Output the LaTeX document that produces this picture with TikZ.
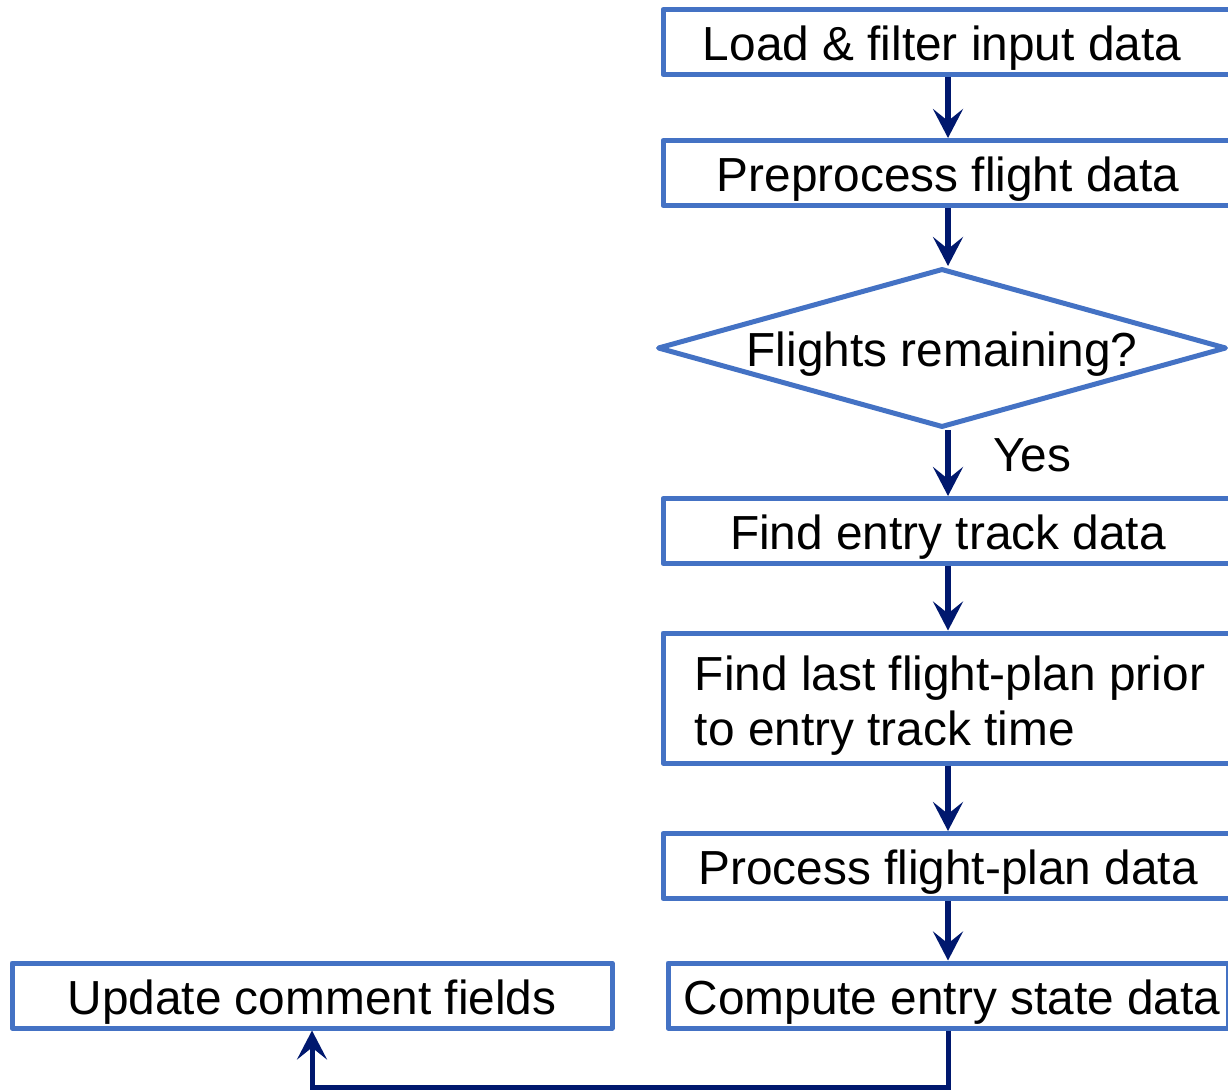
\documentclass[tikz,border=0pt]{standalone}
\usepackage{fontspec}
\setmainfont{Liberation Sans}
\usetikzlibrary{arrows.meta,shapes.geometric}

\definecolor{boxblue}{RGB}{68,114,196}
\definecolor{flownavy}{RGB}{0,24,110}

\tikzset{
  every node/.style={font=\fontsize{47.8}{55}\selectfont, text=black},
  procbox/.style={draw=boxblue, line width=5pt, line join=round, fill=white,
    rectangle, inner sep=0pt, minimum width=570pt, minimum height=65pt,
    text height=37pt, text depth=0pt},
  decision/.style={draw=boxblue, line width=5pt, line join=round, fill=white,
    diamond, aspect=3.6, inner sep=0pt, minimum width=569pt, minimum height=159pt,
    text height=37pt, text depth=0pt},
  flow/.style={draw=flownavy, line width=6pt,
    -{Stealth[length=29pt, width=30pt, inset=12pt]}},
}

\begin{document}
\begin{tikzpicture}[x=1pt, y=-1pt]
  \useasboundingbox (0,0) rectangle (1228,1090);
  \clip (0,0) rectangle (1228,1090);

  % main column of processing steps
  \node[procbox] (load) at (948,42) {\hspace*{-12pt}Load \& filter input data};
  \node[procbox] (prep) at (948,173) {Preprocess flight data};
  \node[decision] (remain) at (942,348) {Flights remaining?};
  \node[procbox] (entry) at (948,531) {Find entry track data};
  \node[procbox, minimum height=130pt, text height=94pt, align=left] (plan) at (948,698)
        {\hspace*{4pt}Find last flight-plan prior\\\hspace*{4pt}to entry track time};
  \node[procbox] (proc) at (948,866) {Process flight-plan data};
  \node[procbox, minimum width=560pt] (comp) at (948,995.5)
        {\hspace*{8pt}Compute entry state data};

  % side step fed back from the last box
  \node[procbox, minimum width=600pt] (upd) at (312,995.5) {Update comment fields};

  % label on the "yes" branch
  \node (yes) at (1032,455) {Yes};

  % connectors
  \draw[flow] (load.south) -- (prep.north);
  \draw[flow] (prep.south) -- (prep.south |- remain.north);
  \draw[flow] (prep.south |- remain.south) -- (entry.north);
  \draw[flow] (entry.south) -- (plan.north);
  \draw[flow] (plan.south) -- (proc.north);
  \draw[flow] (proc.south) -- (proc.south |- comp.north);
  \coordinate (loopR) at (948,1087);
  \coordinate (loopL) at (312,1087);
  \draw[flow, line width=5pt] (proc.south |- comp.south) -- (loopR) -- (loopL) -- (upd.south);
\end{tikzpicture}
\end{document}
